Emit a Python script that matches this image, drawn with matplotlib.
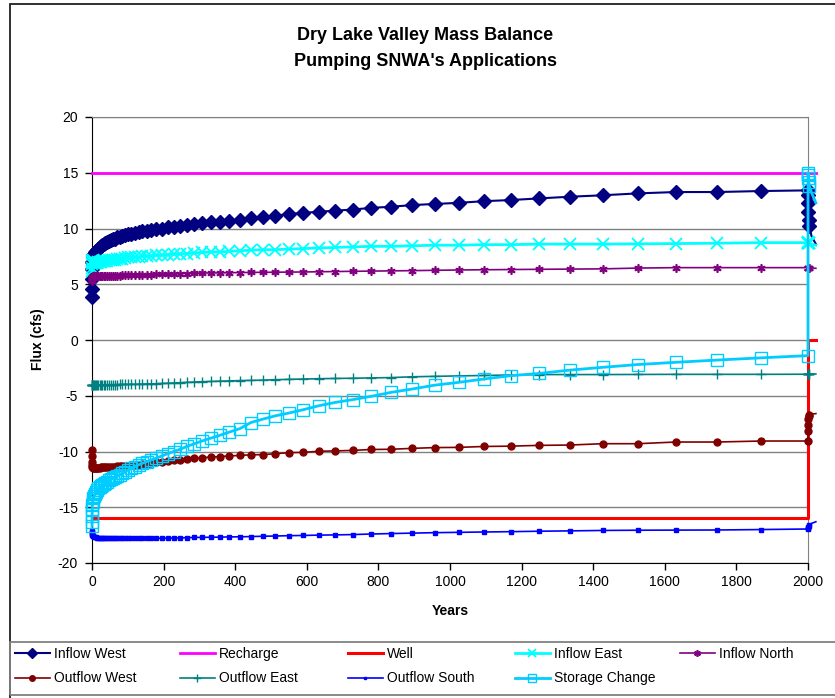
#!/usr/bin/env python3
"""
plot.py -- Dry Lake Valley mass balance, pumping SNWA's applications.
Writes out.png.
"""

import sys
import matplotlib
matplotlib.use("Agg")
import matplotlib.pyplot as plt
from matplotlib.patches import Rectangle

# Model output times (years). Pumping runs to 2000, then recovery starts.
years = [0, 0.05, 0.2, 0.5, 1, 2, 4, 6, 9, 12,
         15, 18, 21, 25, 29, 33, 37, 42, 47, 52,
         58, 64, 70, 77, 85, 93, 101, 110, 120, 130,
         141, 153, 166, 180, 195, 211, 228, 246, 265, 286,
         308, 332, 357, 384, 413, 444, 477, 512, 550, 590,
         633, 679, 728, 780, 835, 894, 957, 1024, 1094, 1169,
         1249, 1335, 1427, 1525, 1631, 1746, 1869, 2000,
         2000.1, 2000.4, 2001, 2002, 2004, 2010, 2022]

inflow_west = [3.9, 4.6, 5.5, 6.4, 7.0, 7.4, 7.6, 7.75, 7.9, 8.0,
               8.1, 8.2, 8.3, 8.4, 8.5, 8.6, 8.7, 8.8, 8.9, 8.95,
               9.05, 9.1, 9.2, 9.25, 9.35, 9.4, 9.5, 9.55, 9.6, 9.7,
               9.75, 9.8, 9.9, 9.95, 10.0, 10.1, 10.15, 10.25, 10.3, 10.4,
               10.45, 10.55, 10.6, 10.7, 10.8, 10.9, 11.0, 11.15, 11.3, 11.4,
               11.5, 11.6, 11.7, 11.85, 11.95, 12.1, 12.2, 12.3, 12.45, 12.55,
               12.7, 12.85, 12.98, 13.15, 13.27, 13.27, 13.36, 13.42,
               13.0, 12.3, 11.5, 10.8, 10.2, 9.3, 8.6]

recharge_years = [0, 2000, 2022]
recharge = [15, 15, 15]

well_years = [0, 2000, 2000, 2022]
well = [-16, -16, 0, 0]

inflow_east = [6.2, 6.5, 6.8, 7.0, 7.1, 7.15, 7.0, 6.95, 6.95, 6.95,
               6.95, 7.0, 7.0, 7.0, 7.05, 7.05, 7.1, 7.1, 7.15, 7.15,
               7.2, 7.2, 7.25, 7.3, 7.3, 7.35, 7.4, 7.4, 7.45, 7.45,
               7.5, 7.5, 7.55, 7.6, 7.6, 7.65, 7.7, 7.7, 7.75, 7.8,
               7.85, 7.9, 7.9, 7.95, 8.0, 8.05, 8.1, 8.1, 8.15, 8.2,
               8.25, 8.3, 8.35, 8.4, 8.4, 8.45, 8.5, 8.5, 8.55, 8.55,
               8.6, 8.6, 8.6, 8.62, 8.65, 8.68, 8.73, 8.73,
               8.75, 8.74, 8.72, 8.7, 8.66, 8.6, 8.5]

inflow_north = [5.3, 5.4, 5.5, 5.6, 5.65, 5.7, 5.7, 5.7, 5.7, 5.72,
                5.72, 5.72, 5.73, 5.73, 5.74, 5.74, 5.75, 5.75, 5.75, 5.76,
                5.76, 5.77, 5.78, 5.78, 5.79, 5.8, 5.8, 5.81, 5.82, 5.83,
                5.84, 5.85, 5.86, 5.88, 5.9, 5.91, 5.92, 5.94, 5.96, 5.98,
                6.0, 6.01, 6.02, 6.03, 6.05, 6.06, 6.07, 6.08, 6.09, 6.1,
                6.12, 6.14, 6.16, 6.18, 6.2, 6.22, 6.25, 6.28, 6.3, 6.32,
                6.34, 6.36, 6.38, 6.45, 6.49, 6.49, 6.49, 6.49,
                6.5, 6.5, 6.5, 6.49, 6.48, 6.46, 6.43]

outflow_west = [-9.9, -10.4, -10.9, -11.2, -11.35, -11.4, -11.45, -11.45, -11.45, -11.45,
                -11.45, -11.45, -11.45, -11.42, -11.42, -11.4, -11.4, -11.4, -11.38, -11.38,
                -11.36, -11.35, -11.34, -11.33, -11.32, -11.3, -11.28, -11.25, -11.22, -11.18,
                -11.14, -11.1, -11.04, -10.98, -10.92, -10.86, -10.8, -10.75, -10.68, -10.62,
                -10.55, -10.5, -10.45, -10.4, -10.35, -10.3, -10.28, -10.2, -10.1, -10.08,
                -9.98, -9.95, -9.9, -9.82, -9.8, -9.72, -9.65, -9.63, -9.55, -9.52,
                -9.45, -9.42, -9.3, -9.3, -9.15, -9.15, -9.06, -9.06,
                -8.2, -7.6, -7.1, -6.8, -6.7, -6.65, -6.6]

outflow_east = [-4.05, -4.05, -4.05, -4.05, -4.05, -4.05, -4.04, -4.04, -4.04, -4.04,
                -4.03, -4.03, -4.03, -4.03, -4.02, -4.02, -4.02, -4.01, -4.01, -4.0,
                -4.0, -4.0, -4.0, -3.99, -3.99, -3.98, -3.98, -3.97, -3.97, -3.96,
                -3.95, -3.94, -3.93, -3.92, -3.9, -3.88, -3.86, -3.83, -3.8, -3.77,
                -3.74, -3.72, -3.69, -3.67, -3.64, -3.62, -3.6, -3.56, -3.53, -3.5,
                -3.47, -3.45, -3.43, -3.4, -3.37, -3.3, -3.26, -3.22, -3.18, -3.14,
                -3.1, -3.1, -3.1, -3.09, -3.08, -3.08, -3.08, -3.07,
                -3.07, -3.07, -3.06, -3.06, -3.06, -3.05, -3.05]

outflow_south = [-17.1, -17.2, -17.3, -17.4, -17.5, -17.55, -17.6, -17.65, -17.7, -17.7,
                 -17.72, -17.74, -17.75, -17.76, -17.77, -17.78, -17.78, -17.79, -17.79, -17.8,
                 -17.8, -17.8, -17.8, -17.8, -17.8, -17.8, -17.8, -17.8, -17.8, -17.8,
                 -17.8, -17.8, -17.8, -17.79, -17.78, -17.77, -17.76, -17.75, -17.73, -17.71,
                 -17.7, -17.69, -17.68, -17.66, -17.65, -17.63, -17.6, -17.58, -17.55, -17.53,
                 -17.5, -17.48, -17.45, -17.4, -17.36, -17.32, -17.28, -17.25, -17.22, -17.19,
                 -17.15, -17.12, -17.08, -17.06, -17.05, -17.04, -17.0, -16.95,
                 -16.9, -16.85, -16.8, -16.7, -16.6, -16.45, -16.3]

storage_change = [-16.7, -16.3, -15.8, -15.2, -14.8, -14.5, -14.2, -14.0, -13.8, -13.6,
                  -13.45, -13.3, -13.2, -13.1, -13.0, -12.9, -12.8, -12.7, -12.6, -12.5,
                  -12.4, -12.3, -12.2, -12.1, -11.95, -11.8, -11.65, -11.5, -11.35, -11.2,
                  -11.05, -10.9, -10.75, -10.6, -10.4, -10.2, -10.0, -9.8, -9.55, -9.3,
                  -9.05, -8.8, -8.55, -8.25, -7.95, -7.4, -7.1, -6.8, -6.55, -6.25,
                  -5.9, -5.6, -5.35, -5.05, -4.7, -4.4, -4.05, -3.8, -3.5, -3.2,
                  -3.0, -2.7, -2.45, -2.2, -2.0, -1.8, -1.6, -1.4,
                  15.0, 14.8, 14.5, 14.2, 13.8, 13.2, 12.3]

W, H = 835, 698


def px_x(x):
    return x / W


def px_y(y):
    return 1 - y / H


def make_plot():
    plt.rcParams['font.family'] = ['Liberation Sans', 'DejaVu Sans']
    plt.rcParams['font.size'] = 10
    plt.rcParams['axes.unicode_minus'] = False

    fig = plt.figure(figsize=(W / 100, H / 100), dpi=100)

    # chart frame and legend box (Excel style)
    fig.patches.append(Rectangle((px_x(10), -0.1), 1.2, px_y(4) + 0.1,
                                 transform=fig.transFigure, fill=False,
                                 edgecolor='#202020', lw=1.3))
    fig.patches.append(Rectangle((px_x(10), px_y(695)), 1.2, (695 - 642) / H,
                                 transform=fig.transFigure, fill=False,
                                 edgecolor='#808080', lw=1.3))

    ax = fig.add_axes([px_x(92), px_y(563), (808 - 92) / W, (563 - 117) / H])

    # markers only up to the short recovery stack just after year 2000
    marks = list(range(len(years) - 2))
    kw = dict(clip_on=False, zorder=3)
    mk = dict(clip_on=False, zorder=3, markevery=marks)
    h_iw, = ax.plot(years, inflow_west, color='#000080', lw=1.5, marker='D',
                    ms=7, label='Inflow West', **mk)
    h_re, = ax.plot(recharge_years, recharge, color='#FF00FF', lw=2,
                    label='Recharge', **kw)
    h_we, = ax.plot(well_years, well, color='#FF0000', lw=2.2,
                    label='Well', **kw)
    h_ie, = ax.plot(years, inflow_east, color='#00FFFF', lw=2, marker='x',
                    ms=8, mew=1.3, label='Inflow East', **mk)
    h_in, = ax.plot(years, inflow_north, color='#800080', lw=1.2,
                    marker=(6, 2, 0), ms=6, mew=1.2, label='Inflow North', **mk)
    h_ow, = ax.plot(years, outflow_west, color='#800000', lw=1.2, marker='o',
                    ms=5, label='Outflow West', **mk)
    h_oe, = ax.plot(years, outflow_east, color='#008080', lw=1.2, marker='+',
                    ms=7, mew=1, label='Outflow East', **mk)
    h_os, = ax.plot(years, outflow_south, color='#0000FF', lw=1.2, marker='s',
                    ms=2.5, label='Outflow South', **mk)
    h_sc, = ax.plot(years, storage_change, color='#00CCFF', lw=2, marker='s',
                    ms=8, mfc='none', mew=1, label='Storage Change', **mk)

    ax.set_xlim(0, 2000)
    ax.set_ylim(-20, 20)
    ax.set_xticks(range(0, 2001, 200))
    ax.set_yticks(range(-20, 21, 5))
    ax.yaxis.grid(True, color='#808080', lw=1)
    ax.set_axisbelow(True)
    for side in ('top', 'right'):
        ax.spines[side].set_color('#808080')
    for side in ('left', 'bottom'):
        ax.spines[side].set_color('black')
    ax.tick_params(direction='out', length=5, width=1, labelsize=10)
    ax.tick_params(axis='y', pad=5)
    ax.tick_params(axis='x', pad=4)

    fig.text(px_x(38), px_y(339), 'Flux (cfs)', rotation=90, weight='bold',
             ha='center', va='center', fontsize=10)
    fig.text(px_x(450), px_y(611), 'Years', weight='bold',
             ha='center', va='center', fontsize=10)
    fig.text(px_x(425), px_y(36), 'Dry Lake Valley Mass Balance',
             weight='bold', ha='center', va='center', fontsize=13)
    fig.text(px_x(425), px_y(61), "Pumping SNWA's Applications",
             weight='bold', ha='center', va='center', fontsize=13)

    # legend: five equal-width columns, two rows
    columns = [([h_iw, h_ow], 15), ([h_re, h_oe], 180), ([h_we, h_os], 348),
               ([h_ie, h_sc], 515), ([h_in], 680)]
    for handles, x in columns:
        leg = fig.legend(handles=handles, loc='upper left',
                         bbox_to_anchor=(px_x(x), px_y(647)), frameon=False,
                         borderpad=0, borderaxespad=0, handlelength=2.5,
                         handletextpad=0.3, labelspacing=0.75, fontsize=10,
                         markerscale=0.8)

    fig.savefig('out.png', dpi=100)


def main(argv):
    make_plot()
    return 0


if __name__ == '__main__':
    sys.exit(main(sys.argv[1:]))
